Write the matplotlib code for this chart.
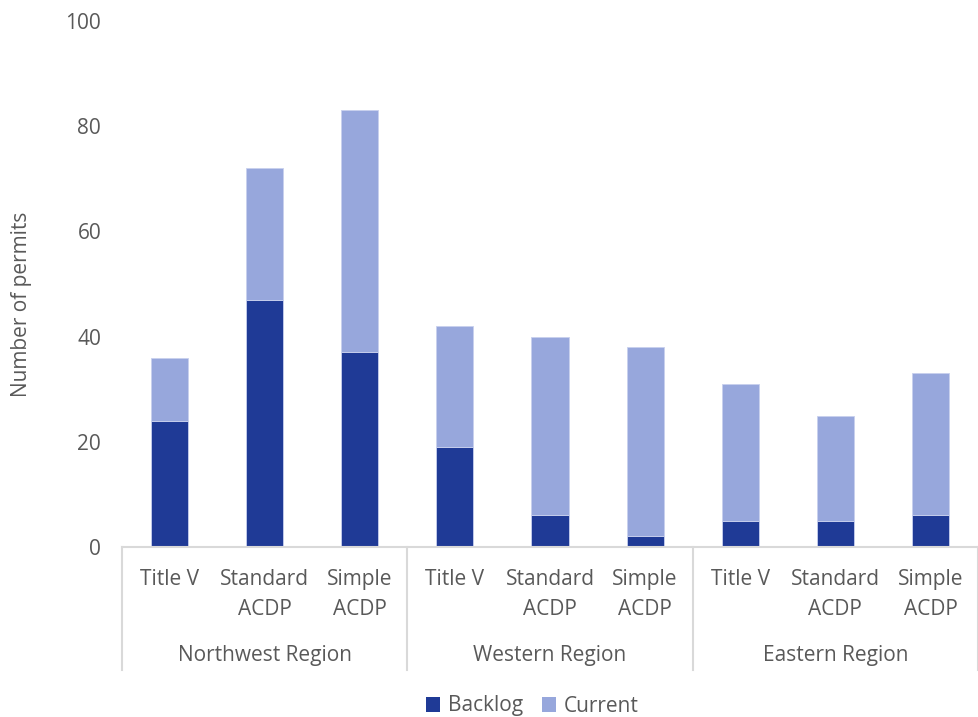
import matplotlib
matplotlib.use("Agg")
import matplotlib.pyplot as plt
import matplotlib.transforms as mtransforms
from matplotlib.lines import Line2D
from matplotlib.patches import Patch

plt.rcParams['font.family'] = ['Open Sans', 'DejaVu Sans']

regions = ["Northwest Region", "Western Region", "Eastern Region"]
permit_types = ["Title V", "Standard\nACDP", "Simple\nACDP"]
backlog = [24, 47, 37, 19, 6, 2, 5, 5, 6]
current = [12, 25, 46, 23, 34, 36, 26, 20, 27]
yticks = [0, 20, 40, 60, 80, 100]

dark = "#1F3A96"
light = "#97A7DC"
txt = "#595959"
grid = "#D9D9D9"
fs = 15

W, H = 979, 717
fig = plt.figure(figsize=(W / 100, H / 100), dpi=100)
ax = fig.add_axes([122 / W, 1 - 547 / H, (978 - 122) / W, (547 - 21) / H])

x = list(range(len(backlog)))
bw = 0.39
ax.bar(x, backlog, width=bw, color=dark, edgecolor="#c8d0ee", linewidth=0.6, label="Backlog")
ax.bar(x, current, bottom=backlog, width=bw, color=light, edgecolor="#c8d0ee", linewidth=0.6, label="Current")

ax.set_xlim(-0.5, len(backlog) - 0.5)
ax.set_ylim(0, 100)
ax.set_yticks(yticks)
ax.set_yticklabels([str(v) for v in yticks], fontsize=fs, color=txt)
ax.tick_params(axis='y', length=0, pad=15)
ax.set_xticks([])
for s in ["top", "right", "left"]:
    ax.spines[s].set_visible(False)
ax.spines["bottom"].set_color(grid)
ax.spines["bottom"].set_linewidth(1.5)

trans = mtransforms.blended_transform_factory(ax.transData, fig.transFigure)
def fy(px):
    return 1 - px / H

# category labels
for i in range(len(backlog)):
    lines = permit_types[i % 3].split("\n")
    ax.text(i, fy(585), lines[0], transform=trans, ha="center", va="baseline", fontsize=fs, color=txt)
    if len(lines) > 1:
        ax.text(i, fy(615), lines[1], transform=trans, ha="center", va="baseline", fontsize=fs, color=txt)

for r, name in enumerate(regions):
    ax.text(r * 3 + 1, fy(661), name, transform=trans, ha="center", va="baseline", fontsize=fs, color=txt)

for b in [-0.5, 2.5, 5.5, 8.5]:
    ax.add_line(Line2D([b, b], [fy(547), fy(670)], transform=trans, color=grid, linewidth=1.5, clip_on=False))

fig.text(22 / W, fy(304), "Number of permits", rotation=90, ha="center", va="center", fontsize=fs, color=txt)

handles = [Patch(facecolor=dark), Patch(facecolor=light)]
fig.legend(handles, ["Backlog", "Current"], loc="center", bbox_to_anchor=(532 / W, fy(706)),
           ncol=2, frameon=False, fontsize=fs, labelcolor=txt, handlelength=0.7, handleheight=0.7,
           handletextpad=0.35, columnspacing=0.9)

fig.savefig("out.png", dpi=100)
